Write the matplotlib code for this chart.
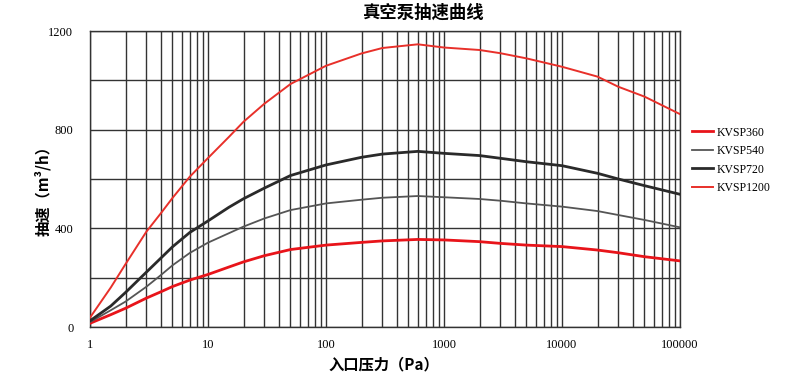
import matplotlib
matplotlib.use("Agg")
import matplotlib.pyplot as plt
from matplotlib.ticker import FixedLocator, NullFormatter, LogLocator

pressure = [1, 1.5, 2, 3, 4, 5, 7, 10, 15, 20, 30, 50, 100, 200, 300, 600, 1000,
            2000, 3000, 5000, 10000, 20000, 30000, 50000, 100000]
kvsp360 = [15, 50, 76, 117, 143, 164, 190, 213, 243, 264, 289, 314, 332, 343, 349,
           355, 353, 346, 339, 332, 326, 312, 301, 285, 268]
kvsp540 = [20, 68, 103, 163, 211, 250, 300, 342, 380, 407, 440, 474, 501, 516, 524,
           531, 526, 519, 512, 501, 488, 470, 454, 434, 404]
kvsp720 = [25, 85, 140, 222, 280, 325, 383, 430, 485, 520, 563, 614, 657, 688, 701,
           712, 704, 695, 684, 670, 654, 623, 600, 573, 538]
kvsp1200 = [38, 160, 255, 386, 462, 523, 609, 685, 770, 832, 905, 985, 1059, 1109,
            1131, 1146, 1133, 1123, 1110, 1089, 1055, 1015, 974, 934, 863]

series_names = ["KVSP360", "KVSP540", "KVSP720", "KVSP1200"]
x_tick_labels = ["1", "10", "100", "1000", "10000", "100000"]
y_tick_values = [0, 400, 800, 1200]

plt.rcParams['font.family'] = ['Noto Sans CJK SC', 'DejaVu Sans']

fig = plt.figure(figsize=(8.1, 3.79), dpi=100)
ax = fig.add_axes([90/810, (379-327)/379, 590/810, 296/379])

ax.plot(pressure, kvsp360, color="#e8141a", lw=2.0, label=series_names[0], zorder=3)
ax.plot(pressure, kvsp540, color="#555555", lw=1.3, label=series_names[1], zorder=3)
ax.plot(pressure, kvsp720, color="#2a2a2a", lw=2.0, label=series_names[2], zorder=3)
ax.plot(pressure, kvsp1200, color="#e8302a", lw=1.4, label=series_names[3], zorder=3)

ax.set_xscale("log")
ax.set_xlim(1, 100000)
ax.set_ylim(0, 1200)

ax.xaxis.set_major_locator(FixedLocator([1, 10, 100, 1000, 10000, 100000]))
ax.set_xticklabels(x_tick_labels, family="Liberation Serif", fontsize=9)
ax.xaxis.set_minor_locator(LogLocator(base=10, subs=range(2, 10)))
ax.xaxis.set_minor_formatter(NullFormatter())

ax.yaxis.set_major_locator(FixedLocator(y_tick_values))
ax.set_yticklabels([str(v) for v in y_tick_values], family="Liberation Serif", fontsize=9)
ax.yaxis.set_minor_locator(FixedLocator([200, 600, 1000]))

ax.grid(True, which="both", axis="both", color="#333333", lw=1.0, zorder=1)
ax.tick_params(which="both", length=0)
ax.tick_params(axis="x", pad=9)
ax.tick_params(axis="y", pad=12)
for s in ax.spines.values():
    s.set_color("#333333")
    s.set_linewidth(1.0)

fig.text(423/810, 1 - 13/379, "真空泵抽速曲线", ha="center", va="center",
         fontsize=12.5, fontweight="bold")
fig.text(384/810, 1 - 364/379, "入口压力（Pa）", ha="center", va="center",
         fontsize=11, fontweight="bold")
fig.text(43/810, 1 - 187/379, "抽速（m³/h）", ha="center", va="center",
         rotation=90, fontsize=11, fontweight="bold")

leg = ax.legend(loc="upper left", bbox_to_anchor=(681/810, 1 - 116/379),
                bbox_transform=fig.transFigure, frameon=False,
                prop={"family": "Liberation Serif", "size": 8.5},
                handlelength=1.8, handletextpad=0.3, labelspacing=0.55)

fig.savefig("out.png", dpi=100)
